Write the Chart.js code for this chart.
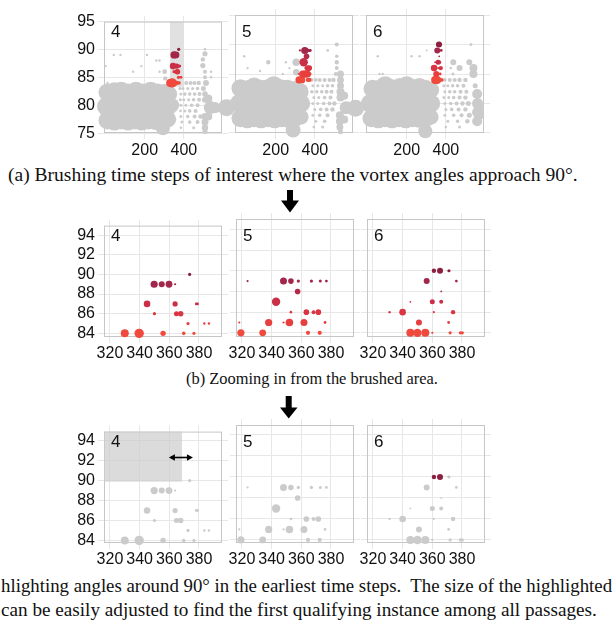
<!DOCTYPE html>
<html><head><meta charset="utf-8">
<script src="https://cdn.jsdelivr.net/npm/chart.js@4.4.0/dist/chart.umd.min.js"></script>
<style>
html,body{margin:0;padding:0;background:#fff;}
body{width:614px;height:625px;position:relative;overflow:hidden;}
canvas{position:absolute;}
.num{position:absolute;font-family:"Liberation Sans",Arial,sans-serif;font-size:17px;line-height:1;color:#111;}
.cap{position:absolute;font-family:"Liberation Serif","Times New Roman",serif;font-size:16.4px;line-height:1;color:#111;white-space:pre;}
svg{position:absolute;left:0;top:0;}
</style></head><body>
<div class="cap" id="capA" data-left="8" data-w="570" data-base="181">(a) Brushing time steps of interest where the vortex angles approach 90°.</div>
<div class="cap" id="capB" data-left="186" data-w="252" data-base="385">(b) Zooming in from the brushed area.</div>
<div class="cap" id="capC1" data-left="1" data-w="612" data-base="593">hlighting angles around 90° in the earliest time steps.  The size of the highlighted</div>
<div class="cap" id="capC2" data-left="1" data-w="596" data-base="616">can be easily adjusted to find the first qualifying instance among all passages.</div>
<svg width="614" height="625" viewBox="0 0 614 625">
  <polygon fill="#000" points="287,190 293,190 293,200.5 299,200.5 290,212.5 281,200.5 287,200.5"/>
  <polygon fill="#000" points="285.7,396 291.7,396 291.7,407.5 297.5,407.5 288.7,418.5 280,407.5 285.7,407.5"/>
</svg>
<script>
// ---------- data ----------
const passages = ['4', '5', '6'];
const timeTicksA = [200, 400];
const angleTicksA = [75, 80, 85, 90, 95];
const timeTicksB = [320, 340, 360, 380];
const angleTicksB = [84, 86, 88, 90, 92, 94];
// brushed ranges: [time from, time to, angle from, angle to]
const brushA = [329, 400, 83.3, 95];
const brushC = [316, 368.5, 89.9, 95];
const brushArrowC = [359.7, 375.9, 92.4];

// highlighted time steps per passage: [time step, angle, size]
const hi4 = [[330,84,4],[339.7,84,4.7],[355.8,84,2.7],[369.7,84,1.8],[376.6,84,1.6],
  [372.6,85,1.6],[383.6,85,1.2],[386.7,85,1.2],
  [350,86,1.6],[364.8,86,2.5],[367.7,86,2.7],
  [345,87,3.3],[363.9,87,2.6],[378.2,87,1.4],[379,87,1.4],
  [349.8,89,3.6],[354.9,89,3],[359.8,89,3.4],[363.9,89,1.1],
  [373.7,90,1.6]];
const hi5 = [[319.3,84,3.6],[334,84,3.4],[364.5,84,2.1],[372.4,84,2.1],
  [318.2,85,1.1],[338,85,3.6],[348,85,1.1],[352,85,3.8],[361.8,85,3.5],[376,85,1.4],
  [353,86,1.3],[363.4,86,2.8],[368.3,86,2],[371.5,86,2.8],
  [343,87,4.2],
  [357.5,88,2.8],
  [323.8,89,1.1],[348,89,3.5],[353,89,2.8],[358,89,1.6],[366.8,89,1.6],[372.8,89,1.5],[376.9,89,1.4]];
const hi6 = [[345.2,84,4],[350,84,4.2],[355.3,84,4],[360,84,1.1],[372,84,1.6],[378.9,84,1.6],[380.2,84,1.6],
  [351,85,3],[371,85,1.4],
  [331.2,86,1.2],[340,86,3.3],[361,86,1.1],[374,86,2.2],
  [345.2,87,0.9],[360,87,2.5],[366,87,2],
  [366,88,0.9],
  [356.2,89,3],[376.2,89,1.4],
  [361.1,90,2.2],[365.2,90,3],[371.2,90,1.6]];

// all other time steps (grey), overview plots: [time step, angle, size]
const bulk4 = [[10,82.3,9],[45,82.5,9],[80,82.5,9.5],[115,82.3,9],[155,82.5,9.5],[190,82.3,9],[230,82.5,9.5],[265,82.3,9],[300,82.2,9],[325,82,8],
  [5,79.8,9.5],[40,79.8,9.5],[75,79.8,9.5],[110,79.8,9.5],[145,79.8,9.5],[180,79.8,9.5],[215,79.8,9.5],[250,79.8,9.5],[285,79.8,9.5],[320,79.8,9],[340,80,7],
  [10,77.3,9],[45,77.2,9.5],[80,77.3,9],[115,77.2,9.5],[150,77.3,9],[185,77.2,9.5],[220,77.3,9],[255,77.2,9],[290,77,9],[320,77.5,8],
  [293,75.9,7]];
const bulk5 = [[20,82.6,9],[55,82.4,9],[90,82.8,9.5],[125,82.5,9],[160,82.6,9],[190,83,9.5],[225,82.6,9],[260,82.5,9],[295,82.3,9],[325,82,8.5],
  [15,80,9.5],[50,80,9.5],[85,80,9.5],[120,80,9.5],[155,80,9.5],[190,80,9.5],[225,80,9.5],[260,80,9.5],[295,80,9.5],[330,80,9],
  [20,77.5,9],[55,77.4,9.5],[90,77.5,9],[125,77.4,9.5],[160,77.5,9],[195,77.4,9.5],[230,77.5,9],[265,77.4,9],[300,77.5,8.5],[330,77.7,7.5],
  [-51,79.3,8.5],[289,75.5,7.5]];
const bulk6 = [[25,82.5,9],[60,82.5,9],[90,83,9.5],[125,82.6,9],[165,82.8,9],[200,83,9.5],[235,82.6,9],[265,82.8,9],[295,82.5,9],[325,82.3,8],
  [15,80,9.5],[50,80,9.5],[85,80,9.5],[120,80,9.5],[155,80,9.5],[190,80,9.5],[225,80,9.5],[260,80,9.5],[295,80,9.5],[325,80,9],
  [20,77.5,9],[55,77.4,9.5],[90,77.5,9],[125,77.4,9.5],[160,77.5,9],[195,77.4,9.5],[230,77.5,9],[265,77.4,9],[300,77.5,8.5],[325,77.7,7.5],
  [-62,79.2,8.5],[295,75.3,7]];
const rest4 = [[42,89,1.2],[76,89,1.2],[212,89,1.2],[0,87,1.2],[183,87,1.2],[141,86,1.2],[276,86,1.2],[10,84,1.2],[259,88,1.2],[276,88,1.2],[302,86,2.4],[305,84.8,2.2],
  [412,84,2],[434,84,2],[454,84,2],[476,84,2.2],[513,84,3],
  [380,83,1.5],[395,83,1.5],[420,83,1.5],[445,83,1.5],[470,83,1.8],[500,83,2.5],
  [385,82,1.5],[405,82,1.8],[430,82,1.8],[455,82,1.8],[480,82,2],
  [382,81,1.5],[400,81,1.5],[425,81,1.5],[450,81,1.8],[478,81,2],
  [385,80,1.5],[410,80,1.5],[440,80,1.8],[470,80,2],
  [383,79,1.3],[405,79,1.5],[430,79,1.8],[460,79,2],
  [385,78,1.5],[420,78,1.8],[455,78,2],[485,78,2.2],
  [390,77,1.5],[430,77,1.8],[470,77,2],
  [385,76,1.3],[450,76,1.5],
  [508,90,1.3],[508,89.2,2.6],[497,88.2,2.2],[497,87.1,2.6],[508,86,2],[539,86,1.3],[508,85,2],[539,85,1.3],
  [508,82,2.8],[508,81,3],[508,78,3.5],[508,77,3.5],[508,76,3.2],[508,75.3,2.5],
  [535,79.6,6.5],[560,79.6,5.5],[585,79.5,4.2],[605,79.5,2.8],[525,81.2,4],[525,78,4]];
const rest5 = [[39,88,1.2],[162,87,2.2],[56,86,1.2],[252,87,1.2],[236,85,1.2],[305,87,3.8],[305,85.3,3.3],[466,89,1.3],[512,90,2],[270,86,1.2],[120,85.5,1.2],
  [385,84,1.8],[405,84,1.8],[425,84,2],[450,84,2],[475,84,2],[495,84,2.2],
  [390,83,1.5],[415,83,1.5],[440,83,1.5],[465,83,1.8],[490,83,1.8],
  [385,82,1.8],[410,82,1.8],[435,82,1.8],[460,82,2],[485,82,2],
  [395,81,1.5],[420,81,1.5],[450,81,1.8],[480,81,2],
  [390,80,1.5],[415,80,1.5],[445,80,1.8],[475,80,2],[500,80,2.2],
  [400,79,1.5],[430,79,1.8],[460,79,2],[490,79,2.2],
  [390,78,1.5],[425,78,1.8],[465,78,2],
  [405,77,1.5],[450,77,1.8],
  [395,76,1.3],[440,76,1.5],
  [531,85,3.5],[531,84,3.5],[531,83,3.5],[531,82,4],[531,81,4],[528,78,4],[528,77,4],[528,76,3.5],[531,75.2,2.5],
  [512,88,1.8],[512,87,2.2],[512,86,2],[507,85,2],
  [560,79.3,6.5],[585,79.3,5.5],[600,79,4],[550,81.3,4],[550,77.3,4]];
const rest6 = [[52,88,1.2],[225,88,1.2],[266,88,1.2],[302,89,1],[61,85,1.2],[77,85,1.2],[438,87,3],[470,86,3],[528,90,1.5],[520,87,3],[541,86,4],[541,85,4],[437,85,1.5],[425,86,1.3],
  [395,84,1.8],[420,84,2],[445,84,2],[470,84,2.2],[500,84,2.2],
  [390,83,1.5],[410,83,1.5],[435,83,1.8],[460,83,1.8],[490,83,2],
  [395,82,1.5],[420,82,1.8],[445,82,1.8],[475,82,2],[505,82,2],
  [390,81,1.5],[415,81,1.5],[440,81,1.8],[470,81,2],[500,81,2.2],
  [395,80,1.5],[425,80,1.8],[455,80,2],[485,80,2.2],[515,80,2.5],
  [400,79,1.5],[430,79,1.8],[465,79,2],[500,79,2.2],
  [395,78,1.5],[440,78,1.8],[480,78,2],[520,78,2.5],
  [410,77,1.5],[460,77,1.8],[510,77,2.2],
  [400,76,1.3],[470,76,1.5],
  [550,83,2.5],[560,81.6,5],[562,80,5.5],[562,78.5,5.5],[560,77,5],[575,79.5,4],[575,78,4]];

// ---------- styling ----------
const GREY = '#cbcbcb';
const angleShades = {84:'#ef4a3d', 85:'#e63f3e', 86:'#d93643', 87:'#c92f47', 88:'#b52a49', 89:'#a3274a', 90:'#8c1f40'};
function shade(a) { return angleShades[Math.round(a)] || '#8c1f40'; }
const toPts = arr => arr.map(([t, a, s]) => ({x: t, y: a, r: s}));

const E = 6, YW = 40, PT = 6, PR = 12, XH = 30, BOX = 118;
const rows = {
  A: {top: 15, lefts: [104, 235, 366], x: [-38.66, 625.66], y: [73.983, 96.017], xt: timeTicksA, yt: angleTicksA, xpad: 2},
  B: {top: 219, lefts: [104, 236, 367], x: [311.96, 399.54], y: [83.02, 95.58], xt: timeTicksB, yt: angleTicksB, xpad: 1},
  C: {top: 425, lefts: [104, 236, 367], x: [311.96, 399.54], y: [83.14, 95.52], xt: timeTicksB, yt: angleTicksB, xpad: 1}
};

function framePlugin(opt) {
  return {
    id: 'frame',
    beforeDatasetsDraw(chart) {
      const {ctx, chartArea: a, scales: {x, y}} = chart;
      ctx.save();
      if (opt.brushUnder) {
        const b = opt.brushUnder;
        const x0 = x.getPixelForValue(b[0]), x1 = x.getPixelForValue(b[1]);
        const y0 = y.getPixelForValue(b[3]), y1 = y.getPixelForValue(b[2]);
        ctx.fillStyle = '#e1e1e1';
        ctx.fillRect(x0, y0, x1 - x0, y1 - y0);
      }
      ctx.strokeStyle = '#c6c6c6';
      ctx.lineWidth = 1;
      ctx.strokeRect(a.left + E + 0.5, a.top + E + 0.5, a.width - 2 * E - 1, a.height - 2 * E - 1);
      if (opt.brushOver) {
        const b = opt.brushOver;
        const x0 = Math.max(x.getPixelForValue(b[0]), a.left + E);
        const x1 = x.getPixelForValue(b[1]);
        const y0 = Math.max(y.getPixelForValue(b[3]), a.top + E);
        const y1 = y.getPixelForValue(b[2]);
        ctx.fillStyle = 'rgba(205,205,205,0.72)';
        ctx.fillRect(x0, y0, x1 - x0, y1 - y0);
      }
      ctx.restore();
    },
    afterDatasetsDraw(chart) {
      if (!opt.arrow) return;
      const {ctx, scales: {x, y}} = chart;
      const x0 = x.getPixelForValue(opt.arrow[0]), x1 = x.getPixelForValue(opt.arrow[1]);
      const yy = Math.round(y.getPixelForValue(opt.arrow[2])) + 0.5;
      ctx.save();
      ctx.strokeStyle = '#000'; ctx.fillStyle = '#000'; ctx.lineWidth = 1.6;
      ctx.beginPath(); ctx.moveTo(x0 + 3, yy); ctx.lineTo(x1 - 3, yy); ctx.stroke();
      ctx.beginPath(); ctx.moveTo(x0, yy); ctx.lineTo(x0 + 6, yy - 3.2); ctx.lineTo(x0 + 6, yy + 3.2); ctx.closePath(); ctx.fill();
      ctx.beginPath(); ctx.moveTo(x1, yy); ctx.lineTo(x1 - 6, yy - 3.2); ctx.lineTo(x1 - 6, yy + 3.2); ctx.closePath(); ctx.fill();
      ctx.restore();
    }
  };
}

function makePanel(rowKey, i, datasets, opt) {
  const g = rows[rowKey];
  const cv = document.createElement('canvas');
  cv.width = YW + BOX + 2 * E + PR;
  cv.height = PT + BOX + 2 * E + XH;
  cv.style.left = (g.lefts[i] - E - YW) + 'px';
  cv.style.top = (g.top - E - PT) + 'px';
  document.body.appendChild(cv);
  const font = {family: 'Liberation Sans', size: 16};
  new Chart(cv, {
    type: 'bubble',
    data: {datasets},
    options: {
      responsive: false, animation: false, devicePixelRatio: 1, events: [],
      layout: {autoPadding: false, padding: {top: PT, right: PR, left: 0, bottom: 0}},
      plugins: {legend: {display: false}, tooltip: {enabled: false}},
      scales: {
        x: {
          type: 'linear', min: g.x[0], max: g.x[1],
          afterBuildTicks: s => { s.ticks = g.xt.map(v => ({value: v})); },
          afterFit: s => { s.height = XH; },
          grid: {color: '#e7e7e7', drawTicks: false},
          border: {display: false},
          ticks: {font, color: '#111', padding: g.xpad, maxRotation: 0, minRotation: 0, autoSkip: false}
        },
        y: {
          type: 'linear', min: g.y[0], max: g.y[1],
          afterBuildTicks: s => { s.ticks = g.yt.map(v => ({value: v})); },
          afterFit: s => { s.width = YW; },
          grid: {color: '#e7e7e7', drawTicks: false},
          border: {display: false},
          ticks: {display: i === 0, font, color: '#111', padding: 3, autoSkip: false}
        }
      }
    },
    plugins: [framePlugin(opt || {})]
  });
  const n = document.createElement('div');
  n.className = 'num';
  n.textContent = passages[i];
  n.style.left = (g.lefts[i] + 7) + 'px';
  n.style.top = (g.top + 8) + 'px';
  document.body.appendChild(n);
}

const bubble = (data, color) => ({data: toPts(data), backgroundColor: color, borderWidth: 0, clip: false});
const hiSets = [hi4, hi5, hi6];
const bulkSets = [bulk4, bulk5, bulk6];
const restSets = [rest4, rest5, rest6];

for (let i = 0; i < 3; i++) {
  // (a) overview
  makePanel('A', i, [
    bubble(hiSets[i], c => shade(c.raw.y)),
    bubble(restSets[i], GREY),
    bubble(bulkSets[i], GREY)
  ], i === 0 ? {brushUnder: brushA} : {});
  // (b) zoom with colours
  makePanel('B', i, [bubble(hiSets[i], c => shade(c.raw.y))], {});
  // (c) highlight earliest passage inside the brush
  const inBrush = p => p.x >= brushC[0] && p.x <= brushC[1] && p.y >= brushC[2] && p.y <= brushC[3];
  makePanel('C', i, [bubble(hiSets[i], c => inBrush(c.raw) && i === 2 ? shade(c.raw.y) : GREY)],
    i === 0 ? {brushOver: brushC, arrow: brushArrowC} : {});
}

// captions: fit to measured extents
const mc = document.createElement('canvas').getContext('2d');
document.querySelectorAll('.cap').forEach(el => {
  mc.font = '100px "Liberation Serif"';
  const w = mc.measureText(el.textContent).width;
  const fs = 100 * (+el.dataset.w) / w;
  el.style.fontSize = fs.toFixed(2) + 'px';
  el.style.left = el.dataset.left + 'px';
  el.style.top = (+el.dataset.base - 0.8375 * fs).toFixed(1) + 'px';
});
document.body.appendChild(document.querySelector('svg'));
</script>
</body></html>
